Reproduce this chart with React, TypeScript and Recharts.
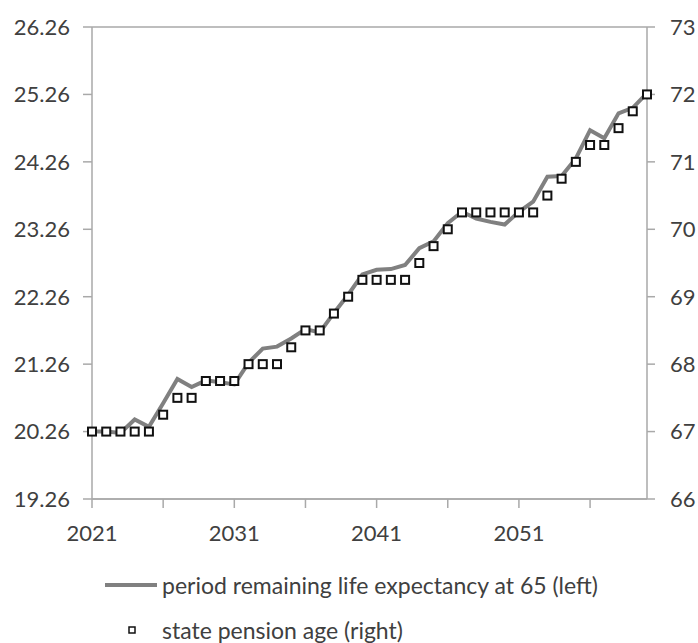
import React from "react";
import {
  ComposedChart,
  Line,
  XAxis,
  YAxis,
  CartesianGrid,
  Legend,
} from "recharts";

// years on the category axis
const years = [
  2021, 2022, 2023, 2024, 2025, 2026, 2027, 2028, 2029, 2030,
  2031, 2032, 2033, 2034, 2035, 2036, 2037, 2038, 2039, 2040,
  2041, 2042, 2043, 2044, 2045, 2046, 2047, 2048, 2049, 2050,
  2051, 2052, 2053, 2054, 2055, 2056, 2057, 2058, 2059, 2060,
];

// period remaining life expectancy at 65 (left axis)
const lifeExpectancy = [
  20.26, 20.26, 20.24, 20.44, 20.33, 20.68, 21.04, 20.92, 21.02, 20.99,
  20.96, 21.28, 21.49, 21.52, 21.64, 21.78, 21.73, 22.02, 22.29, 22.59,
  22.66, 22.67, 22.73, 22.98, 23.08, 23.35, 23.52, 23.42, 23.37, 23.33,
  23.52, 23.67, 24.04, 24.05, 24.31, 24.73, 24.61, 24.98, 25.06, 25.28,
];

// state pension age (right axis)
const pensionAge = [
  67, 67, 67, 67, 67, 67.25, 67.5, 67.5, 67.75, 67.75,
  67.75, 68, 68, 68, 68.25, 68.5, 68.5, 68.75, 69, 69.25,
  69.25, 69.25, 69.25, 69.5, 69.75, 70, 70.25, 70.25, 70.25, 70.25,
  70.25, 70.25, 70.5, 70.75, 71, 71.25, 71.25, 71.5, 71.75, 72,
];

const leftTicks = [19.26, 20.26, 21.26, 22.26, 23.26, 24.26, 25.26, 26.26];
const rightTicks = [66, 67, 68, 69, 70, 71, 72, 73];
const labelYears = [2021, 2031, 2041, 2051];

const data = years.map((year, i) => ({
  year,
  life: lifeExpectancy[i],
  spa: pensionAge[i],
}));

const FONT = "Lato, 'Open Sans', sans-serif";
const TEXT = "#404040";
const GRID = "#a9a9a9";
const LINE = "#808080";

// white square marker with black border
const SquareDot = (props: any) => {
  const { cx, cy } = props;
  if (cx == null || cy == null) return null;
  return (
    <rect x={cx - 4} y={cy - 4} width={8} height={8} fill="#fff" stroke="#111" strokeWidth={2} />
  );
};

const renderLegend = () => (
  <div style={{ fontFamily: FONT, fontSize: 23, lineHeight: "24px", color: TEXT, height: 94, position: "relative" }}>
    <div style={{ position: "absolute", left: 105, top: 24, display: "flex", alignItems: "center", whiteSpace: "nowrap" }}>
      <svg width={54} height={8}>
        <line x1={0} y1={4} x2={52} y2={4} stroke={LINE} strokeWidth={4} />
      </svg>
      <span style={{ marginLeft: 3 }}>period remaining life expectancy at 65 (left)</span>
    </div>
    <div style={{ position: "absolute", left: 128, top: 69, display: "flex", alignItems: "center", whiteSpace: "nowrap" }}>
      <svg width={8} height={8}>
        <rect x={1} y={1} width={6} height={6} fill="#fff" stroke="#111" strokeWidth={1.5} />
      </svg>
      <span style={{ marginLeft: 26 }}>state pension age (right)</span>
    </div>
  </div>
);

export default function App() {
  return (
    <div style={{ position: "absolute", left: 0, top: 0, background: "#fff" }}>
      <ComposedChart
        width={698}
        height={643}
        data={data}
        margin={{ top: 27, right: 0, bottom: 0, left: 0 }}
      >
        <CartesianGrid vertical={false} stroke={GRID} strokeWidth={1.5} />
        <XAxis
          dataKey="year"
          type="category"
          interval={4}
          tickSize={9}
          tickMargin={17}
          height={50}
          stroke={GRID}
          strokeWidth={1.5}
          tick={{ fill: TEXT, fontSize: 22, fontFamily: FONT }}
          tickFormatter={(v: number) => (labelYears.includes(v) ? String(v) : "")}
        />
        <YAxis
          yAxisId="left"
          orientation="left"
          domain={[19.26, 26.26]}
          ticks={leftTicks}
          width={92}
          tickSize={9}
          tickMargin={13}
          stroke={GRID}
          strokeWidth={1.5}
          tick={{ fill: TEXT, fontSize: 22, fontFamily: FONT }}
          tickFormatter={(v: number) => v.toFixed(2)}
        />
        <YAxis
          yAxisId="right"
          orientation="right"
          domain={[66, 73]}
          ticks={rightTicks}
          width={51}
          tickSize={8}
          tickMargin={15}
          stroke={GRID}
          strokeWidth={1.5}
          tick={{ fill: TEXT, fontSize: 22, fontFamily: FONT }}
        />
        <Legend verticalAlign="bottom" content={renderLegend} />
        <Line
          yAxisId="left"
          type="linear"
          dataKey="life"
          stroke={LINE}
          strokeWidth={4}
          dot={false}
          isAnimationActive={false}
        />
        <Line
          yAxisId="right"
          type="linear"
          dataKey="spa"
          stroke="none"
          dot={<SquareDot />}
          activeDot={false}
          isAnimationActive={false}
        />
      </ComposedChart>
    </div>
  );
}
